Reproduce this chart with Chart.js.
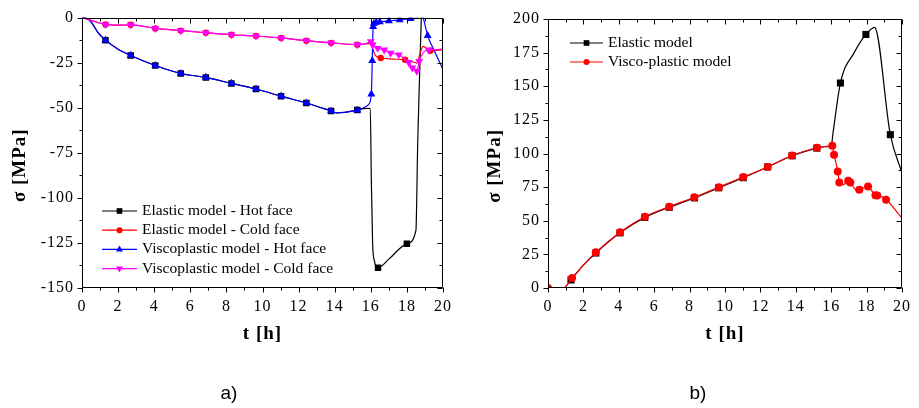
<!DOCTYPE html>
<html>
<head>
<meta charset="utf-8">
<script src="https://cdn.jsdelivr.net/npm/chart.js@4/dist/chart.umd.min.js"></script>
<style>
  html, body { margin: 0; padding: 0; background: #fff; }
  #wrap { position: relative; width: 919px; height: 408px; overflow: hidden; background: #fff; }
  canvas { position: absolute; top: 0; }
  .cap { position: absolute; top: 381px; transform: translateX(-50%);
         font: 19px 'Liberation Sans', Arial, sans-serif; line-height: 24px; color: #000; }
</style>
</head>
<body>
<div id="wrap">
  <canvas id="chartA" width="460" height="408" style="left:0"></canvas>
  <canvas id="chartB" width="459" height="408" style="left:460px"></canvas>
  <div class="cap" style="left:229px">a)</div>
  <div class="cap" style="left:698px">b)</div>
</div>
<script>
// ---------- shared axis ticks ----------
const tTicks = [0, 2, 4, 6, 8, 10, 12, 14, 16, 18, 20];
const aYTicks = [0, -25, -50, -75, -100, -125, -150];
const bYTicks = [0, 25, 50, 75, 100, 125, 150, 175, 200];

// ---------- panel a) : stress at hot / cold face ----------
const aLabels = [
  'Elastic model - Hot face',
  'Elastic model - Cold face',
  'Viscoplastic model - Hot face',
  'Viscoplastic model - Cold face'
];

// Elastic model - hot face
const elHotT = [0, 0.3, 0.55, 0.9, 1.3, 2.0, 2.7, 4.06, 5.47, 6.86, 8.28, 9.64, 11.03, 12.43, 13.8, 14.1, 15.25, 15.6, 15.97, 16.03, 16.1, 16.2, 16.4, 17.0, 18.0, 18.5, 18.6, 18.7, 18.8, 19.0, 20];
const elHotS = [0, -0.5, -3, -8.5, -12.5, -17.5, -21, -26.6, -31, -33.2, -36.5, -39.6, -43.6, -47.4, -51.8, -52.8, -51.3, -50.5, -50.3, -90, -125, -135, -138.8, -134, -125.5, -118, -69, -33, 0, 30, 60];
const elHotMarks = [1.3, 2.7, 4.06, 5.47, 6.86, 8.28, 9.64, 11.03, 12.43, 13.8, 15.25, 16.4, 18.0];

// Elastic model - cold face
const elColdT = [0, 0.5, 1.3, 2.0, 2.7, 4.06, 5.47, 6.86, 8.28, 9.64, 11.03, 12.43, 13.8, 15.25, 15.7, 16.0, 16.1, 16.25, 16.55, 17.2, 17.9, 18.3, 18.55, 18.75, 18.9, 19.3, 20];
const elColdS = [0, -1.5, -3.8, -4.2, -4.0, -6, -7.2, -8.4, -9.5, -10.2, -11.3, -12.8, -14, -15, -14.6, -14.3, -17, -21, -22.4, -23, -23.4, -24.5, -25.2, -19, -16, -18.4, -17.9];
const elColdMarks = [1.3, 2.7, 4.06, 5.47, 6.86, 8.28, 9.64, 11.03, 12.43, 13.8, 15.25, 16.55, 17.9, 19.3];

// Viscoplastic model - hot face
const vpHotT = [0, 0.3, 0.55, 0.9, 1.3, 2.0, 2.7, 4.06, 5.47, 6.86, 8.28, 9.64, 11.03, 12.43, 13.8, 14.1, 15.25, 15.6, 15.85, 16.03, 16.08, 16.13, 16.17, 16.3, 16.5, 17.0, 17.6, 18.2, 18.55, 18.72, 18.9, 19.15, 19.5, 20];
const vpHotS = [0, -0.5, -3, -8.5, -12.5, -17.5, -21, -26.6, -31, -33.2, -36.5, -39.6, -43.6, -47.4, -51.8, -52.8, -51.3, -50, -48.5, -42.5, -23.9, -5, -3.3, -2.7, -2.4, -1.8, -1.3, -0.6, -0.3, 4, 0, -10, -18, -28.8];
const vpHotMarks = [1.3, 2.7, 4.06, 5.47, 6.86, 8.28, 9.64, 11.03, 12.43, 13.8, 15.25, 16.03, 16.08, 16.13, 16.17, 16.3, 16.5, 17.0, 17.6, 18.2, 19.15];

// Viscoplastic model - cold face
const vpColdT = [0, 0.5, 1.3, 2.0, 2.7, 4.06, 5.47, 6.86, 8.28, 9.64, 11.03, 12.43, 13.8, 15.25, 15.7, 16.0, 16.1, 16.38, 16.74, 17.1, 17.55, 18.1, 18.3, 18.55, 18.68, 18.9, 19.2, 19.6, 20];
const vpColdS = [0, -1.5, -3.8, -4.2, -4.0, -6, -7.2, -8.4, -9.5, -10.2, -11.3, -12.8, -14, -15, -14.6, -13.3, -15.1, -17, -17.9, -19.7, -20.6, -24.8, -27.9, -29.7, -24.3, -19.5, -17.9, -17.8, -17.3];
const vpColdMarks = [1.3, 2.7, 4.06, 5.47, 6.86, 8.28, 9.64, 11.03, 12.43, 13.8, 15.25, 16.0, 16.1, 16.38, 16.74, 17.1, 17.55, 18.1, 18.3, 18.55, 18.68, 19.2];

// ---------- panel b) : maximum stress ----------
const bLabels = ['Elastic model', 'Visco-plastic model'];

const elT = [0, 0.35, 0.68, 1.0, 1.3, 2.0, 2.7, 4.07, 5.47, 6.85, 8.27, 9.65, 11.03, 12.41, 13.79, 15.19, 15.6, 16.0, 16.1, 16.52, 17.3, 17.96, 18.45, 19.34, 20];
const elS = [0, -0.5, -1, 1, 6, 17, 26, 41, 52.5, 60, 67, 74.5, 82, 90, 98.3, 104, 105, 105.3, 115, 152.4, 175, 188.5, 193.8, 114, 85.5];
const elMarks = [1.3, 2.7, 4.07, 5.47, 6.85, 8.27, 9.65, 11.03, 12.41, 13.79, 15.19, 16.52, 17.96, 19.34];

const vpT = [0, 0.35, 0.68, 1.0, 1.36, 2.0, 2.7, 4.07, 5.47, 6.85, 8.27, 9.65, 11.03, 12.41, 13.79, 15.19, 15.6, 16.06, 16.16, 16.37, 16.46, 16.7, 16.96, 17.08, 17.44, 17.59, 18.08, 18.5, 18.6, 19.1, 20];
const vpS = [0, -0.5, -1.2, 1, 7.5, 17, 26.5, 41.5, 53, 60.5, 67.5, 75, 82.5, 90, 98.5, 104.3, 105, 105.8, 99.1, 86.7, 78.5, 76.8, 79.8, 78.5, 72.6, 73.1, 75.5, 68.9, 68.8, 65.6, 52];
const vpMarks = [0, 1.36, 2.7, 4.07, 5.47, 6.85, 8.27, 9.65, 11.03, 12.41, 13.79, 15.19, 16.06, 16.16, 16.37, 16.46, 16.96, 17.08, 17.59, 18.08, 18.5, 18.6, 19.1];

// ---------- helpers ----------
const SERIF = "'Liberation Serif', 'Times New Roman', serif";
const pts = (ts, ss) => ts.map((t, i) => ({ x: t, y: ss[i] }));

function series(label, ts, ss, marks, style) {
  return {
    label,
    data: pts(ts, ss),
    borderColor: style.color,
    backgroundColor: style.color,
    borderWidth: 1.2,
    pointStyle: style.shape,
    pointRotation: style.rotation || 0,
    pointBorderWidth: 0,
    pointBackgroundColor: style.color,
    pointRadius: ctx => (ctx.raw && marks.includes(ctx.raw.x)) ? style.radius : 0,
    pointHoverRadius: 0,
    cubicInterpolationMode: 'monotone',
    order: style.order,
    legendRadius: style.legendRadius
  };
}

function drawMarker(ctx, shape, r, rot, x, y) {
  if (Chart.helpers && Chart.helpers.drawPoint) {
    Chart.helpers.drawPoint(ctx, { pointStyle: shape, radius: r, rotation: rot, borderWidth: 0 }, x, y);
  } else {
    ctx.beginPath(); ctx.arc(x, y, r, 0, Math.PI * 2); ctx.fill();
  }
}

// slightly spaced lettering for the axis numbers and titles
const spacing = {
  id: 'spacing',
  beforeDraw(chart, args, o) { chart.ctx.letterSpacing = o.value; },
  afterDraw(chart) { chart.ctx.letterSpacing = '0px'; }
};

// legend drawn inside the plot frame: short line with the symbol on it
const innerLegend = {
  id: 'innerLegend',
  afterDatasetsDraw(chart, args, o) {
    const ctx = chart.ctx;
    ctx.save();
    ctx.letterSpacing = '0px';
    ctx.font = o.font;
    ctx.textBaseline = 'middle';
    chart.data.datasets.forEach((ds, i) => {
      const y = o.y + i * o.rowGap;
      ctx.strokeStyle = ds.borderColor;
      ctx.lineWidth = 1.2;
      ctx.beginPath();
      ctx.moveTo(o.x, y);
      ctx.lineTo(o.x + o.lineLen, y);
      ctx.stroke();
      ctx.fillStyle = ds.borderColor;
      drawMarker(ctx, ds.pointStyle, ds.legendRadius, ds.pointRotation, o.x + o.lineLen / 2, y);
      ctx.fillStyle = '#000';
      ctx.fillText(ds.label, o.x + o.lineLen + o.gap, y);
    });
    ctx.restore();
  }
};

// frame around the plot with major/minor tick marks on all four sides
const frameTicks = {
  id: 'frameTicks',
  afterDatasetsDraw(chart, args, o) {
    const { ctx, chartArea: a, scales: { x, y } } = chart;
    const L = Math.round(a.left) + 0.5, R = Math.round(a.right) - 0.5;
    const T = Math.round(a.top) + 0.5, B = Math.round(a.bottom) - 0.5;
    ctx.save();
    ctx.strokeStyle = '#000';
    ctx.lineWidth = 1;
    ctx.beginPath();
    ctx.rect(L, T, R - L, B - T);
    const xs = [], ys = [];
    for (let v = x.min; v <= x.max + 1e-9; v += o.xMinor) xs.push(v);
    for (let v = y.min; v <= y.max + 1e-9; v += o.yMinor) ys.push(v);
    xs.forEach((v, i) => {
      const len = (i % 2 === 0) ? o.major : o.minor;
      const px = Math.round(x.getPixelForValue(v)) + 0.5;
      ctx.moveTo(px, B); ctx.lineTo(px, B + len);      // bottom, outward
      ctx.moveTo(px, T); ctx.lineTo(px, T + len);      // top, inward
    });
    ys.forEach((v, i) => {
      const len = (i % 2 === 0) ? o.major : o.minor;
      const py = Math.round(y.getPixelForValue(v)) + 0.5;
      ctx.moveTo(L, py); ctx.lineTo(L - len, py);      // left, outward
      ctx.moveTo(R, py); ctx.lineTo(R - len, py);      // right, inward
    });
    ctx.stroke();
    ctx.restore();
  }
};

function axes(yMin, yMax, yTicks, yWidth, yTitlePad) {
  const tickFont = { family: SERIF, size: 16 };
  const titleFont = { family: SERIF, size: 19, weight: 'bold' };
  return {
    x: {
      type: 'linear', min: 0, max: 20,
      afterBuildTicks: s => { s.ticks = tTicks.map(v => ({ value: v })); },
      afterFit: s => { s.height = 120; },
      ticks: { font: tickFont, color: '#000', padding: 9, maxRotation: 0, autoSkip: false, callback: v => String(v) },
      grid: { display: false, drawTicks: false },
      border: { display: false },
      title: { display: true, text: 't [h]', font: titleFont, color: '#000', padding: { top: 0, bottom: 63 } }
    },
    y: {
      type: 'linear', min: yMin, max: yMax,
      afterBuildTicks: s => { s.ticks = yTicks.map(v => ({ value: v })); },
      afterFit: s => { s.width = yWidth; },
      ticks: { font: tickFont, color: '#000', padding: 8, autoSkip: false, callback: v => String(v) },
      grid: { display: false, drawTicks: false },
      border: { display: false },
      // trailing spaces keep the visible words a little below the centre of the axis
      title: { display: true, text: 'σ [MPa]\u2003\u2009', font: titleFont, color: '#000', padding: { top: yTitlePad, bottom: 0 } }
    }
  };
}

const common = {
  responsive: false,
  animation: false,
  devicePixelRatio: 1,
  events: []
};

// ---------- panel a) ----------
new Chart(document.getElementById('chartA'), {
  type: 'line',
  data: {
    datasets: [
      series(aLabels[0], elHotT, elHotS, elHotMarks, { color: '#000000', shape: 'rect', radius: 4.6, legendRadius: 4, order: 4 }),
      series(aLabels[1], elColdT, elColdS, elColdMarks, { color: '#ff0000', shape: 'circle', radius: 3.2, legendRadius: 3, order: 3 }),
      series(aLabels[2], vpHotT, vpHotS, vpHotMarks, { color: '#0000ff', shape: 'triangle', radius: 4.6, legendRadius: 4, order: 2 }),
      series(aLabels[3], vpColdT, vpColdS, vpColdMarks, { color: '#ff00ff', shape: 'triangle', rotation: 180, radius: 4.6, legendRadius: 4, order: 1 })
    ]
  },
  options: Object.assign({}, common, {
    layout: { padding: { top: 14, right: 9, left: 0, bottom: 0 } },
    scales: axes(-150, 0, aYTicks, 82, 8.5),
    plugins: {
      legend: { display: false }, tooltip: { enabled: false },
      spacing: { value: '1px' },
      frameTicks: { xMinor: 1, yMinor: 12.5, major: 5, minor: 3 },
      innerLegend: { x: 102, y: 211, rowGap: 19.2, lineLen: 35, gap: 5, font: '15.5px ' + SERIF }
    }
  }),
  plugins: [spacing, frameTicks, innerLegend]
});

// ---------- panel b) ----------
new Chart(document.getElementById('chartB'), {
  type: 'line',
  data: {
    datasets: [
      series(bLabels[0], elT, elS, elMarks, { color: '#000000', shape: 'rect', radius: 5, legendRadius: 4, order: 2 }),
      series(bLabels[1], vpT, vpS, vpMarks, { color: '#ff0000', shape: 'circle', radius: 4, legendRadius: 3, order: 1 })
    ]
  },
  options: Object.assign({}, common, {
    layout: { padding: { top: 19, right: 9, left: 0, bottom: 0 } },
    scales: axes(0, 200, bYTicks, 88, 23.5),
    plugins: {
      legend: { display: false }, tooltip: { enabled: false },
      spacing: { value: '1px' },
      frameTicks: { xMinor: 1, yMinor: 12.5, major: 5, minor: 3 },
      innerLegend: { x: 110, y: 43, rowGap: 19, lineLen: 33, gap: 5, font: '15.5px ' + SERIF }
    }
  }),
  plugins: [spacing, frameTicks, innerLegend]
});
</script>
</body>
</html>
